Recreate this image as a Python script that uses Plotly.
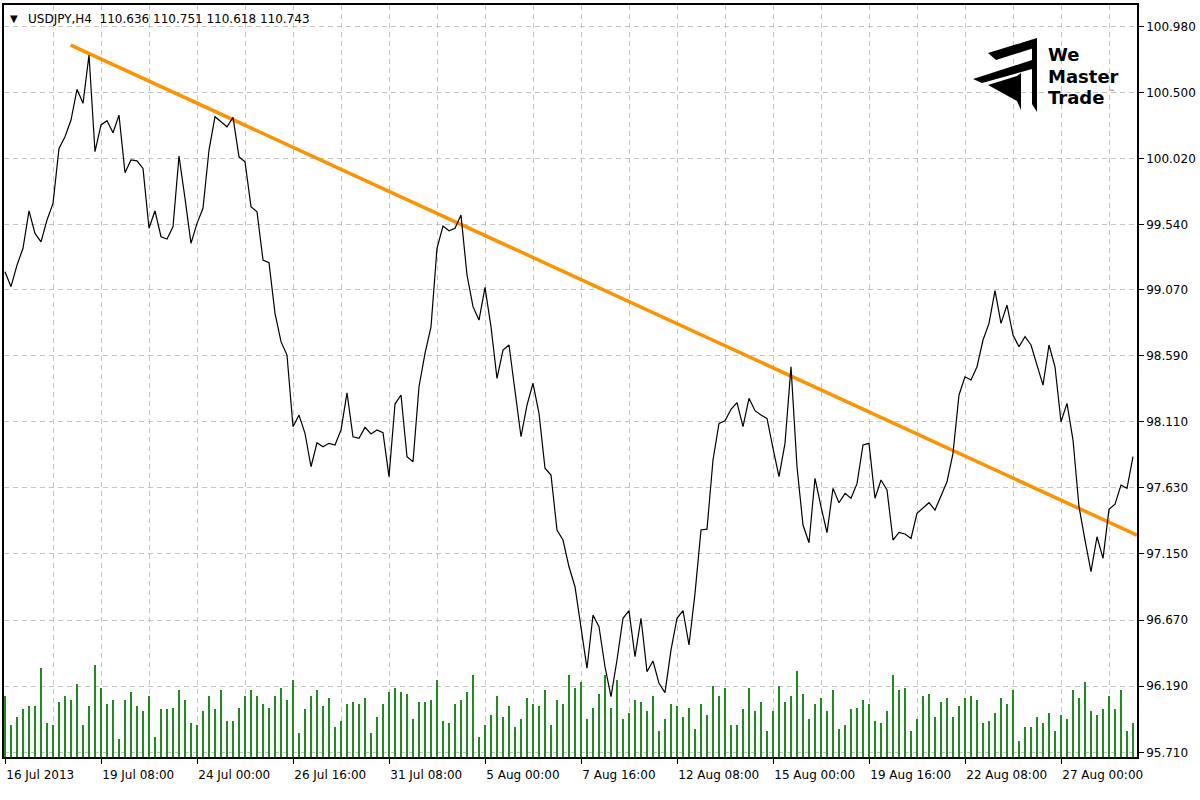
import plotly.graph_objects as go

# ---------------- data ----------------
close = [
    99.199, 99.090, 99.247, 99.369, 99.641, 99.477, 99.416, 99.574, 99.695, 100.094,
    100.179, 100.300, 100.523, 100.421, 100.772, 100.070, 100.264, 100.295, 100.208, 100.336,
    99.917, 100.010, 100.004, 99.949, 99.514, 99.641, 99.453, 99.436, 99.525, 100.039,
    99.731, 99.405, 99.550, 99.659, 100.082, 100.324, 100.288, 100.251, 100.319, 100.033,
    99.997, 99.671, 99.634, 99.284, 99.264, 98.897, 98.691, 98.594, 98.074, 98.158,
    98.026, 97.783, 97.957, 97.928, 97.953, 97.941, 98.050, 98.320, 98.001, 97.989,
    98.069, 98.021, 98.050, 98.030, 97.711, 98.238, 98.304, 97.856, 97.819, 98.364,
    98.606, 98.799, 99.369, 99.530, 99.496, 99.514, 99.610, 99.175, 98.945, 98.848,
    99.085, 98.799, 98.425, 98.630, 98.667, 98.316, 98.001, 98.231, 98.389, 98.171,
    97.772, 97.723, 97.324, 97.251, 97.057, 96.912, 96.622, 96.320, 96.707, 96.622,
    96.331, 96.114, 96.380, 96.683, 96.738, 96.404, 96.683, 96.295, 96.373, 96.211,
    96.143, 96.453, 96.683, 96.738, 96.489, 96.864, 97.324, 97.330, 97.832, 98.098,
    98.117, 98.200, 98.248, 98.074, 98.280, 98.190, 98.158, 98.134, 97.917, 97.711,
    97.953, 98.509, 97.783, 97.360, 97.231, 97.699, 97.493, 97.304, 97.626, 97.522,
    97.590, 97.554, 97.660, 97.941, 97.953, 97.554, 97.687, 97.614, 97.251, 97.307,
    97.295, 97.263, 97.445, 97.486, 97.522, 97.469, 97.578, 97.674, 97.880, 98.304,
    98.436, 98.413, 98.509, 98.703, 98.824, 99.061, 98.824, 98.957, 98.739, 98.654,
    98.727, 98.667, 98.521, 98.376, 98.667, 98.509, 98.110, 98.243, 97.977, 97.493,
    97.251, 97.021, 97.275, 97.118, 97.474, 97.512, 97.650, 97.626, 97.856,
]

volume = [
    188, 98, 122, 146, 157, 157, 272, 104, 98, 169,
    188, 176, 223, 98, 157, 283, 211, 163, 176, 55,
    176, 200, 157, 140, 188, 62, 146, 146, 152, 206,
    176, 104, 98, 140, 188, 146, 206, 110, 110, 152,
    188, 206, 188, 163, 152, 188, 211, 176, 235, 74,
    146, 188, 206, 157, 182, 92, 110, 163, 169, 163,
    182, 74, 122, 163, 200, 213, 200, 194, 116, 169,
    169, 176, 235, 110, 104, 163, 176, 200, 253, 62,
    98, 128, 188, 122, 157, 92, 116, 182, 163, 157,
    206, 98, 176, 163, 253, 213, 229, 116, 152, 194,
    253, 152, 235, 116, 134, 176, 169, 140, 188, 80,
    116, 163, 157, 122, 152, 86, 163, 128, 217, 188,
    211, 98, 98, 146, 211, 140, 169, 80, 140, 217,
    169, 188, 265, 194, 116, 163, 182, 140, 206, 86,
    98, 146, 152, 176, 163, 110, 104, 140, 253, 206,
    211, 80, 116, 188, 194, 122, 169, 182, 122, 157,
    182, 188, 176, 104, 110, 134, 182, 163, 206, 50,
    92, 92, 122, 104, 134, 80, 128, 116, 206, 182,
    229, 140, 128, 146, 188, 146, 206, 80, 104,
]

bar_index = list(range(len(close)))

date_tick_index = [0, 16, 32, 48, 64, 80, 96, 112, 128, 144, 160, 176]
date_tick_labels = ["16 Jul 2013", "19 Jul 08:00", "24 Jul 00:00", "26 Jul 16:00",
                    "31 Jul 08:00", "5 Aug 00:00", "7 Aug 16:00", "12 Aug 08:00",
                    "15 Aug 00:00", "19 Aug 16:00", "22 Aug 08:00", "27 Aug 00:00"]
grid_index = list(range(0, 189, 8))

price_ticks = [100.98, 100.50, 100.02, 99.54, 99.07, 98.59, 98.11, 97.63, 97.15, 96.67, 96.19, 95.71]
price_tick_labels = ["%.3f" % v for v in price_ticks]

trend_index = [10.95, 188.67]
trend_price = [100.844, 97.287]

header_text = "USDJPY,H4  110.636 110.751 110.618 110.743"

# ---------------- layout constants ----------------
W, H = 1200, 800
L, R, T, B = 4, 1137, 5, 757  # plot area in pixels
FONT = "DejaVu Sans"
GRID = "#c4c4c4"

fig = go.Figure()

fig.add_trace(go.Bar(
    x=bar_index, y=volume, yaxis="y2", width=0.3,
    marker=dict(color="#1e8c1e", line=dict(width=0)),
    hoverinfo="skip", showlegend=False,
))

fig.add_trace(go.Scatter(
    x=trend_index, y=trend_price, mode="lines",
    line=dict(color="#ff9200", width=3.5), showlegend=False, hoverinfo="skip",
))

fig.add_trace(go.Scatter(
    x=bar_index, y=close, mode="lines",
    line=dict(color="#000000", width=1.2), showlegend=False,
))


def px(x, y):
    return ((x - L) / (R - L), (B - y) / (B - T))


def path(points):
    s = ""
    for k, (x, y) in enumerate(points):
        a, b = px(x, y)
        s += ("M" if k == 0 else "L") + f"{a:.5f},{b:.5f} "
    return s + "Z"


logo_polys = [
    [(988, 53), (1037, 38), (1037, 47), (996, 60)],      # top chevron
    [(973, 79), (1032, 60), (1032, 69), (982, 83)],     # middle chevron
    [(988, 85), (1017, 76), (1017, 101)],               # triangle
    [(1032, 47), (1037, 44), (1037, 112), (1032, 104)],  # vertical bar
    [(1017, 76), (1021, 73), (1021, 110), (1017, 101)],  # small vertical bar
]
shapes = []
for poly in logo_polys:
    shapes.append(dict(type="path", xref="paper", yref="paper", path=path(poly),
                       fillcolor="#000000", line=dict(width=0), layer="above"))

annotations = []
ax, ay = px(8, 19)
annotations.append(dict(x=ax, y=ay, xref="paper", yref="paper", text="▼",
                        showarrow=False, xanchor="left", yanchor="middle",
                        font=dict(family=FONT, size=10, color="#000")))
ax, ay = px(26, 19)
annotations.append(dict(x=ax, y=ay, xref="paper", yref="paper", text=header_text,
                        showarrow=False, xanchor="left", yanchor="middle",
                        font=dict(family=FONT, size=12, color="#000")))
logo_lines = [("<b>We</b>", 54.5), ("<b>Master</b>", 76), ("<b>Trade</b>", 97.5)]
for txt, yy in logo_lines:
    ax, ay = px(1047, yy)
    annotations.append(dict(x=ax, y=ay, xref="paper", yref="paper", text=txt,
                            showarrow=False, xanchor="left", yanchor="middle",
                            borderpad=0,
                            font=dict(family="DejaVu Sans", size=18, color="#000")))
ax, ay = px(1108, 91)
annotations.append(dict(x=ax, y=ay, xref="paper", yref="paper", text="™",
                        showarrow=False, xanchor="left", yanchor="middle",
                        borderpad=0,
                        font=dict(family="DejaVu Sans", size=6, color="#000")))

fig.update_layout(
    width=W, height=H,
    margin=dict(l=L, r=W - R, t=T, b=H - B, autoexpand=False),
    paper_bgcolor="#ffffff", plot_bgcolor="#ffffff",
    showlegend=False, bargap=0,
    xaxis=dict(
        range=[(L - 5) / 6, (R - 5) / 6],
        tickmode="array", tickvals=date_tick_index, ticktext=date_tick_labels,
        ticks="outside", ticklen=5, tickwidth=1, tickcolor="#000",
        ticklabelposition="outside right", ticklabelstandoff=6,
        tickfont=dict(family=FONT, size=12, color="#000"),
        showgrid=True, gridcolor=GRID, griddash="5px,4px", gridwidth=1,
        minor=dict(tickmode="array", tickvals=grid_index, showgrid=True,
                   gridcolor=GRID, griddash="5px,4px", gridwidth=1, ticks=""),
        showline=True, linecolor="#000", linewidth=1.5, mirror=True,
        zeroline=False, fixedrange=True,
    ),
    yaxis=dict(
        side="right", range=[95.676, 101.135],
        tickmode="array", tickvals=price_ticks, ticktext=price_tick_labels,
        ticks="outside", ticklen=5, tickwidth=1, tickcolor="#000",
        tickfont=dict(family=FONT, size=12, color="#000"),
        showgrid=True, gridcolor=GRID, griddash="5px,4px", gridwidth=1,
        showline=True, linecolor="#000", linewidth=1.5, mirror=True,
        zeroline=False, fixedrange=True,
    ),
    yaxis2=dict(
        overlaying="y", range=[0, 752 * 215 / 70], visible=False, fixedrange=True,
    ),
    shapes=shapes,
    annotations=annotations,
)

fig.write_html("out.html", config={"displayModeBar": False},
               post_script="document.body.style.margin='0px';")
